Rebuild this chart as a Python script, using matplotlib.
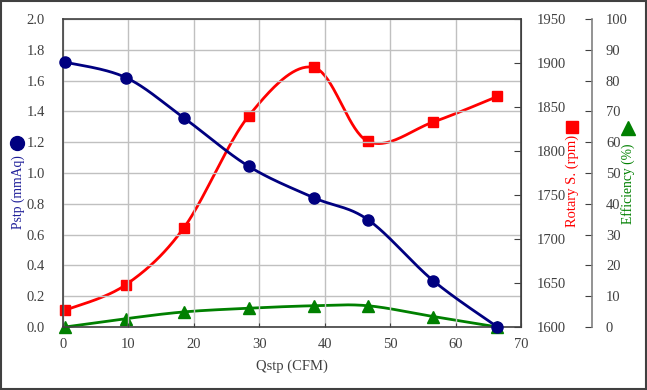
import numpy as np
import matplotlib
matplotlib.use("Agg")
import matplotlib.pyplot as plt
from matplotlib.patches import Rectangle
from matplotlib.lines import Line2D

plt.rcParams['font.family'] = ['Liberation Serif', 'DejaVu Serif']

# Data
qstp = [0.3, 9.6, 18.5, 28.4, 38.3, 46.6, 56.6, 66.4]
pstp = [1.72, 1.62, 1.357, 1.043, 0.84, 0.697, 0.30, 0.0]
rpm = [1619, 1648, 1713, 1840, 1895, 1811, 1833, 1862]
eff = [0.0, 2.7, 4.9, 6.1, 6.9, 6.9, 3.4, 0.0]

x_ticks = [0, 10, 20, 30, 40, 50, 60, 70]
p_ticks = [0.0, 0.2, 0.4, 0.6, 0.8, 1.0, 1.2, 1.4, 1.6, 1.8, 2.0]
r_ticks = [1600, 1650, 1700, 1750, 1800, 1850, 1900, 1950]
e_ticks = [0, 10, 20, 30, 40, 50, 60, 70, 80, 90, 100]

BLUE = '#000080'
RED = '#ff0000'
GREEN = '#008000'
TXT = '#404040'
TS = 10.5   # tick label size
LS = 9.8    # axis title size


def smooth(x, y, n=40):
    """Catmull-Rom curve through the points (like a spreadsheet 'smoothed line')."""
    x = np.asarray(x, float)
    y = np.asarray(y, float)
    px = np.concatenate([[x[0]], x, [x[-1]]])
    py = np.concatenate([[y[0]], y, [y[-1]]])
    xs, ys = [], []
    t = np.linspace(0, 1, n)
    for i in range(1, len(px) - 2):
        p0, p1, p2, p3 = [np.array([px[j], py[j]]) for j in (i - 1, i, i + 1, i + 2)]
        c1 = p1 + (p2 - p0) / 6.0
        c2 = p2 - (p3 - p1) / 6.0
        b = ((1 - t) ** 3)[:, None] * p1 + (3 * (1 - t) ** 2 * t)[:, None] * c1 \
            + (3 * (1 - t) * t ** 2)[:, None] * c2 + (t ** 3)[:, None] * p2
        xs.append(b[:, 0])
        ys.append(b[:, 1])
    return np.concatenate(xs), np.concatenate(ys)


fig = plt.figure(figsize=(6.47, 3.90), dpi=100)
ax = fig.add_axes([63 / 647, 63 / 390, 458 / 647, 308 / 390])
ax.set_zorder(3)
ax.patch.set_visible(False)

ax_r = ax.twinx()
ax_e = ax.twinx()
ax_r.set_zorder(2)
ax_e.set_zorder(1)

# grid on main axes
ax.set_xlim(0, 70)
ax.set_ylim(0, 2.0)
ax.set_xticks(x_ticks)
ax.set_yticks(p_ticks)
ax.set_yticklabels([f"{v:.1f}" for v in p_ticks])
ax.grid(True, color='#c0c0c0', lw=1.0)
ax.set_axisbelow(True)
ax.tick_params(axis='both', direction='in', length=0, colors=TXT, labelsize=TS)
ax.tick_params(axis='x', length=3, pad=8)
ax.tick_params(axis='y', pad=13)
for s in ['left', 'bottom', 'top', 'right']:
    ax.spines[s].set_color(TXT)
    ax.spines[s].set_linewidth(1.2)

# Rotary speed axis
ax_r.set_ylim(1600, 1950)
ax_r.set_yticks(r_ticks)
ax_r.tick_params(axis='y', direction='in', length=5, colors=TXT, labelsize=TS, pad=11)
ax_r.spines['right'].set_color(TXT)

# Efficiency axis
ax_e.set_ylim(0, 100)
ax_e.set_yticks(e_ticks)
ax_e.spines['right'].set_position(('axes', (592 - 63) / 458))
ax_e.spines['right'].set_color('#808080')
ax_e.spines['right'].set_linewidth(1.2)
ax_e.tick_params(axis='y', direction='in', length=5, colors=TXT, labelsize=TS, pad=10)
for a in (ax_r, ax_e):
    for s in ['left', 'bottom', 'top']:
        a.spines[s].set_visible(False)

# curves
sx, sy = smooth(qstp, eff)
ax_e.plot(sx, sy, color=GREEN, lw=2.0, zorder=3, clip_on=False)
ax_e.plot(qstp, eff, ls='none', marker='^', ms=8, color=GREEN, zorder=4, clip_on=False)

sx, sy = smooth(qstp, rpm)
ax_r.plot(sx, sy, color=RED, lw=2.0, zorder=3, clip_on=False)
ax_r.plot(qstp, rpm, ls='none', marker='s', ms=7.5, color=RED, zorder=4, clip_on=False)

sx, sy = smooth(qstp, pstp)
ax.plot(sx, sy, color=BLUE, lw=2.0, zorder=3, clip_on=False)
ax.plot(qstp, pstp, ls='none', marker='o', ms=8, color=BLUE, zorder=4, clip_on=False)

# axis titles
ax.set_xlabel('Qstp (CFM)', color=TXT, fontsize=10.5, labelpad=6)
fig.text(18 / 647, 1 - 192 / 390, 'Pstp (mmAq)', rotation=90, color='#1f1f99',
         fontsize=LS, ha='center', va='center')
fig.text(572 / 647, 1 - 181 / 390, 'Rotary S. (rpm)', rotation=90, color=RED,
         fontsize=10.5, ha='center', va='center')
fig.text(628 / 647, 1 - 184 / 390, 'Efficiency (%)', rotation=90, color=GREEN,
         fontsize=LS, ha='center', va='center')
fig.add_artist(Line2D([17 / 647], [1 - 143 / 390], marker='o', ms=10, color=BLUE,
                      transform=fig.transFigure))
fig.add_artist(Line2D([572 / 647], [1 - 127 / 390], marker='s', ms=9, color=RED,
                      transform=fig.transFigure))
fig.add_artist(Line2D([628 / 647], [1 - 128 / 390], marker='^', ms=10, color=GREEN,
                      transform=fig.transFigure))

# outer border
fig.add_artist(Rectangle((0.002, 0.003), 0.996, 0.994, transform=fig.transFigure,
                         fill=False, edgecolor='#404040', lw=1.5))

fig.savefig('out.png', dpi=100)
